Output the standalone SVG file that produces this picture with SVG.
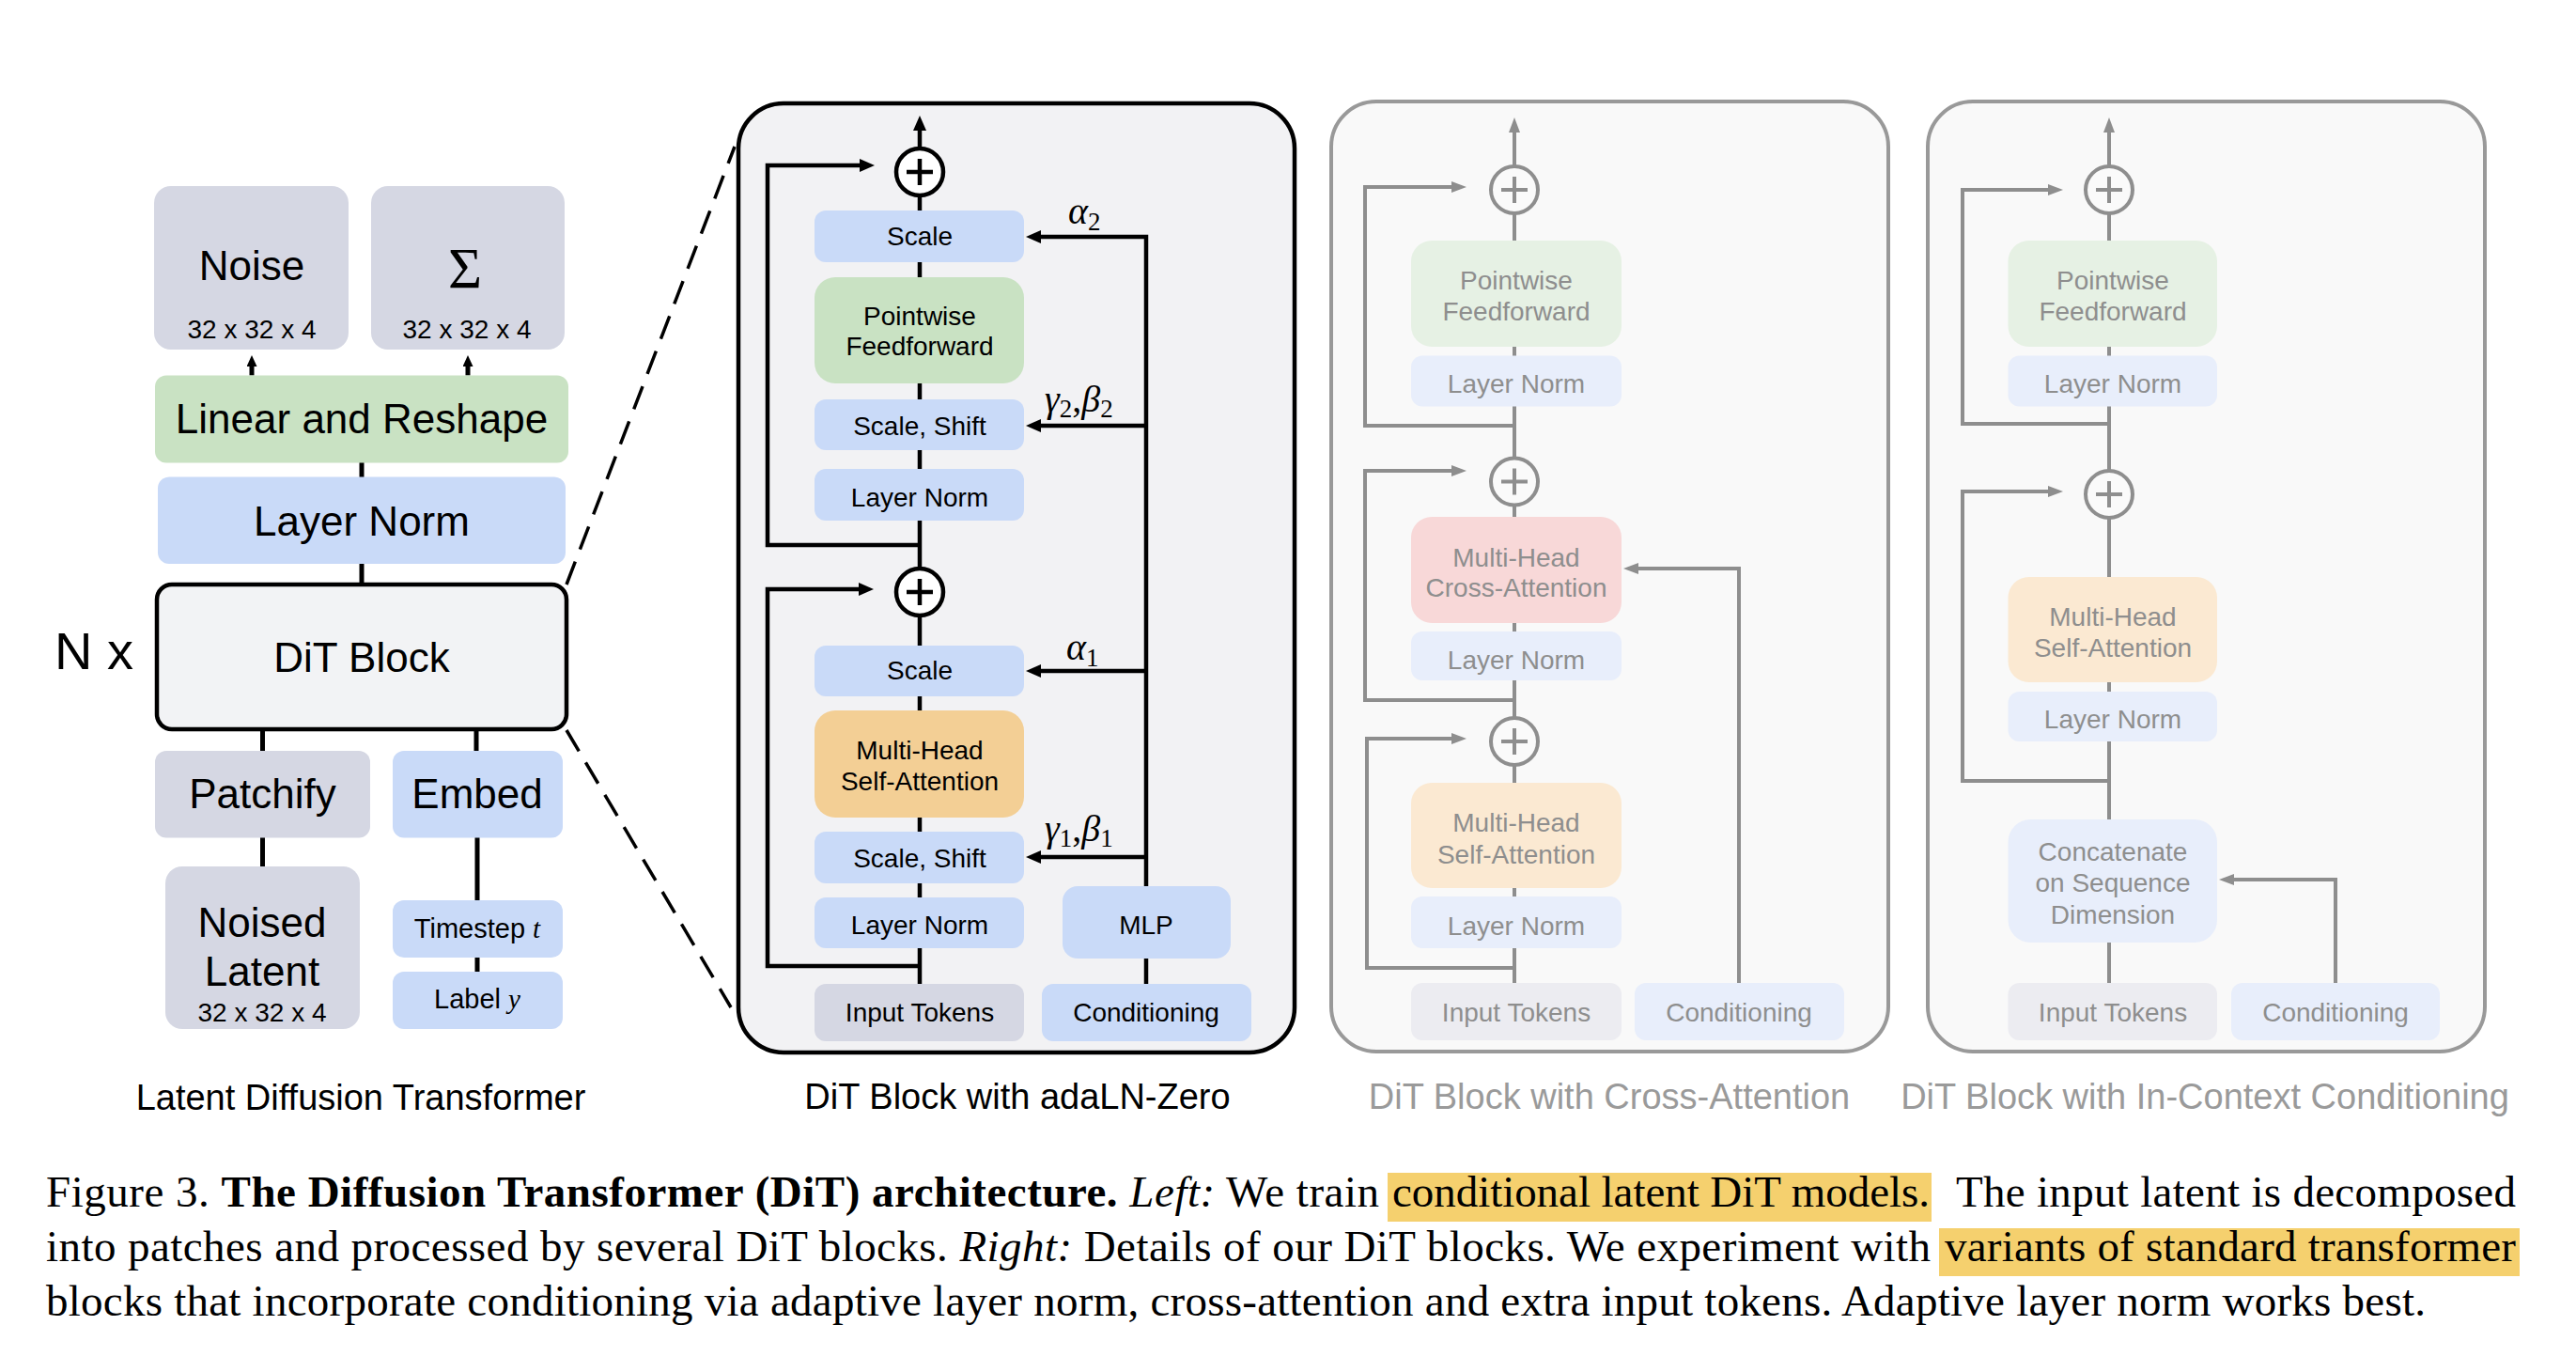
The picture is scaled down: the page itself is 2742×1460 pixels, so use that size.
<svg xmlns="http://www.w3.org/2000/svg" width="2742" height="1460" viewBox="0 0 2742 1460">
<style>
.sans{font-family:"Liberation Sans",Arial,Helvetica,sans-serif}
.serif{font-family:"Liberation Serif","Times New Roman",serif}
.c{text-anchor:middle}
.big{font-size:44px}
.med{font-size:28px}
.ttl{font-size:38px}
.blk{stroke:#000;stroke-width:4.5;fill:none}
.gry{stroke:#8e8e8e;stroke-width:4;fill:none}
.dash{stroke:#000;stroke-width:3.5;fill:none;stroke-dasharray:26 14}
.blue{fill:#c9daf8}
.green{fill:#c9e2c3}
.gray{fill:#d5d7e3}
.orange{fill:#f3cf95}
.fblue{fill:#e8eefb}
.fgreen{fill:#e6f1e4}
.fred{fill:#f8d8d8}
.forange{fill:#fbe9d2}
.fgray{fill:#ececf1}
.ft{fill:#8e8e8e}
.gt{fill:#9a9a9a}
.cap{font-family:"Liberation Serif","Times New Roman",serif;font-size:47px}
.hl{fill:#f5d06e}
.greek{font-family:"Liberation Serif","DejaVu Serif",serif;font-style:italic;font-size:40px}
.sub{font-family:"Liberation Serif","DejaVu Serif",serif;font-style:normal;font-size:27px}
</style>
<defs>
<marker id="ah" markerUnits="userSpaceOnUse" markerWidth="16" markerHeight="14" viewBox="0 0 16 14" refX="6" refY="7" orient="auto"><path d="M0,0 L16,7 L0,14 z" fill="#000"/></marker>
<marker id="ahs" markerUnits="userSpaceOnUse" markerWidth="12" markerHeight="11" viewBox="0 0 12 11" refX="4" refY="5.5" orient="auto"><path d="M0,0 L12,5.5 L0,11 z" fill="#000"/></marker>
<marker id="ahg" markerUnits="userSpaceOnUse" markerWidth="16" markerHeight="12" viewBox="0 0 16 12" refX="6" refY="6" orient="auto"><path d="M0,0 L16,6 L0,12 z" fill="#8e8e8e"/></marker>
</defs>
<rect width="2742" height="1460" fill="#fff"/>

<!-- panel backgrounds -->
<rect id="panel-adaln" x="786" y="110" width="592" height="1010" rx="48" fill="#f2f2f4" stroke="#000" stroke-width="4.5"/>
<rect id="panel-cross" x="1417" y="108" width="593" height="1011" rx="48" fill="#f9f9f9" stroke="#999" stroke-width="4"/>
<rect id="panel-incontext" x="2052" y="108" width="593" height="1011" rx="48" fill="#f9f9f9" stroke="#999" stroke-width="4"/>

<g id="connectors">
  <!-- left panel -->
  <path d="M268,399.5 V386" stroke="#000" stroke-width="5" marker-end="url(#ahs)"/>
  <path d="M498,399.5 V386" stroke="#000" stroke-width="5" marker-end="url(#ahs)"/>
  <path d="M385,492 V508 M385,600 V622 M279.5,776 V799 M507,776 V799 M279.5,891 V922 M508,891 V958 M508,1019 V1034" stroke="#000" stroke-width="5" fill="none"/>
  <path class="dash" d="M603,622 L782,156"/>
  <path class="dash" d="M603,777 L778,1072"/>
  <!-- adaLN panel -->
  <path class="blk" d="M979,1047 V208"/>
  <path class="blk" d="M979,158 V133" marker-end="url(#ah)"/>
  <path class="blk" d="M979,580 H817 V176 H921" marker-end="url(#ah)"/>
  <path class="blk" d="M979,1028 H817 V627 H920" marker-end="url(#ah)"/>
  <path class="blk" d="M1220,943 V252 H1102" marker-end="url(#ah)"/>
  <path class="blk" d="M1220,453 H1102" marker-end="url(#ah)"/>
  <path class="blk" d="M1220,714 H1102" marker-end="url(#ah)"/>
  <path class="blk" d="M1220,912 H1102" marker-end="url(#ah)"/>
  <path class="blk" d="M1220,1047 V1020"/>
  <!-- cross-attention panel -->
  <path class="gry" d="M1612,1046 V227"/>
  <path class="gry" d="M1612,177 V135" marker-end="url(#ahg)"/>
  <path class="gry" d="M1612,453 H1453 V199 H1551" marker-end="url(#ahg)"/>
  <path class="gry" d="M1612,745 H1453 V501 H1551" marker-end="url(#ahg)"/>
  <path class="gry" d="M1612,1030 H1455 V786 H1551" marker-end="url(#ahg)"/>
  <path class="gry" d="M1851,1046 V605 H1738" marker-end="url(#ahg)"/>
  <!-- in-context panel -->
  <path class="gry" d="M2245,1046 V227"/>
  <path class="gry" d="M2245,177 V135" marker-end="url(#ahg)"/>
  <path class="gry" d="M2245,451 H2089 V202 H2186" marker-end="url(#ahg)"/>
  <path class="gry" d="M2245,831 H2089 V523 H2186" marker-end="url(#ahg)"/>
  <path class="gry" d="M2486,1046 V936 H2372" marker-end="url(#ahg)"/>
</g>

<!-- LEFT PANEL -->
<g id="noise"><rect class="gray" x="164" y="198" width="207" height="174" rx="18"/>
<text class="sans c big" x="268" y="298">Noise</text><text class="sans c med" x="268" y="360">32 x 32 x 4</text></g>
<g id="sigma"><rect class="gray" x="395" y="198" width="206" height="174" rx="18"/>
<text class="serif c" x="495" y="306" font-size="62">Σ</text><text class="sans c med" x="497" y="360">32 x 32 x 4</text></g>
<g id="linear"><rect class="green" x="165" y="399.5" width="440" height="93" rx="12"/>
<text class="sans c big" x="385" y="461">Linear and Reshape</text></g>
<g id="layernorm-left"><rect class="blue" x="168" y="507.5" width="434" height="92.5" rx="12"/>
<text class="sans c big" x="385" y="569.5">Layer Norm</text></g>
<g id="ditblock"><rect x="167" y="622" width="436" height="154" rx="16" fill="#f2f3f5" stroke="#000" stroke-width="4.5"/>
<text class="sans c big" x="385" y="714.5">DiT Block</text></g>
<text id="nx" class="sans" x="58" y="712" font-size="56">N x</text>
<g id="patchify"><rect class="gray" x="165" y="799" width="229" height="92.5" rx="12"/>
<text class="sans c big" x="279.5" y="860">Patchify</text></g>
<g id="embed"><rect class="blue" x="418" y="799" width="181" height="92.5" rx="12"/>
<text class="sans c big" x="508" y="860">Embed</text></g>
<g id="noised-latent"><rect class="gray" x="176" y="922" width="207" height="173" rx="18"/>
<text class="sans c big" x="279" y="996.5">Noised</text><text class="sans c big" x="279" y="1049">Latent</text>
<text class="sans c med" x="279" y="1087">32 x 32 x 4</text></g>
<g id="timestep"><rect class="blue" x="418" y="958" width="181" height="61" rx="12"/>
<text class="sans c" x="508" y="998" font-size="29">Timestep <tspan class="serif" font-style="italic">t</tspan></text></g>
<g id="label"><rect class="blue" x="418" y="1034" width="181" height="61" rx="12"/>
<text class="sans c" x="508" y="1073" font-size="29">Label <tspan class="serif" font-style="italic">y</tspan></text></g>
<text class="sans c ttl" x="384" y="1181">Latent Diffusion Transformer</text>

<!-- ADALN PANEL -->
<g id="a-plus1"><circle cx="979" cy="183" r="25" fill="#fff" stroke="#000" stroke-width="4.5"/><path class="blk" d="M965,183 H993 M979,169 V197"/></g>
<g id="a-scale2"><rect class="blue" x="867" y="224" width="223" height="55" rx="12"/><text class="sans c med" x="979" y="261">Scale</text></g>
<g id="a-ff"><rect class="green" x="867" y="295" width="223" height="113" rx="22"/><text class="sans c med" x="979" y="346">Pointwise</text><text class="sans c med" x="979" y="378">Feedforward</text></g>
<g id="a-ss2"><rect class="blue" x="867" y="425" width="223" height="54" rx="12"/><text class="sans c med" x="979" y="462.5">Scale, Shift</text></g>
<g id="a-ln2"><rect class="blue" x="867" y="499" width="223" height="55" rx="12"/><text class="sans c med" x="979" y="538.5">Layer Norm</text></g>
<g id="a-plus2"><circle cx="979" cy="630" r="25" fill="#fff" stroke="#000" stroke-width="4.5"/><path class="blk" d="M965,630 H993 M979,616 V644"/></g>
<g id="a-scale1"><rect class="blue" x="867" y="687" width="223" height="54" rx="12"/><text class="sans c med" x="979" y="723">Scale</text></g>
<g id="a-mhsa"><rect class="orange" x="867" y="756" width="223" height="114" rx="22"/><text class="sans c med" x="979" y="808">Multi-Head</text><text class="sans c med" x="979" y="841">Self-Attention</text></g>
<g id="a-ss1"><rect class="blue" x="867" y="885" width="223" height="55" rx="12"/><text class="sans c med" x="979" y="922.5">Scale, Shift</text></g>
<g id="a-ln1"><rect class="blue" x="867" y="955" width="223" height="54" rx="12"/><text class="sans c med" x="979" y="993.5">Layer Norm</text></g>
<g id="a-input"><rect class="gray" x="867" y="1047" width="223" height="61" rx="12"/><text class="sans c med" x="979" y="1087">Input Tokens</text></g>
<g id="a-cond"><rect class="blue" x="1109" y="1047" width="223" height="61" rx="12"/><text class="sans c med" x="1220" y="1087">Conditioning</text></g>
<g id="a-mlp"><rect class="blue" x="1131" y="943" width="179" height="77" rx="16"/><text class="sans c med" x="1220" y="994">MLP</text></g>
<text class="greek" x="1137" y="238">α<tspan class="sub" dy="7">2</tspan></text>
<text class="greek" x="1112" y="438">γ<tspan class="sub" dy="6">2</tspan><tspan dy="-6" font-style="normal">,</tspan>β<tspan class="sub" dy="6">2</tspan></text>
<text class="greek" x="1135" y="702">α<tspan class="sub" dy="7">1</tspan></text>
<text class="greek" x="1112" y="895">γ<tspan class="sub" dy="6">1</tspan><tspan dy="-6" font-style="normal">,</tspan>β<tspan class="sub" dy="6">1</tspan></text>
<text class="sans c ttl" x="1083" y="1180">DiT Block with adaLN-Zero</text>

<!-- CROSS-ATTENTION PANEL -->
<g id="c-plus1"><circle cx="1612" cy="202" r="25" fill="#fafafa" stroke="#8e8e8e" stroke-width="4"/><path class="gry" d="M1598,202 H1626 M1612,188 V216"/></g>
<g id="c-ff"><rect class="fgreen" x="1502" y="256" width="224" height="113" rx="22"/><text class="sans c med ft" x="1614" y="307.5">Pointwise</text><text class="sans c med ft" x="1614" y="340.5">Feedforward</text></g>
<g id="c-ln3"><rect class="fblue" x="1502" y="378.5" width="224" height="54" rx="12"/><text class="sans c med ft" x="1614" y="418">Layer Norm</text></g>
<g id="c-plus2"><circle cx="1612" cy="512.5" r="25" fill="#fafafa" stroke="#8e8e8e" stroke-width="4"/><path class="gry" d="M1598,512.5 H1626 M1612,498.5 V526.5"/></g>
<g id="c-mhca"><rect class="fred" x="1502" y="550" width="224" height="113" rx="22"/><text class="sans c med ft" x="1614" y="603">Multi-Head</text><text class="sans c med ft" x="1614" y="634.5">Cross-Attention</text></g>
<g id="c-ln2"><rect class="fblue" x="1502" y="672" width="224" height="52" rx="12"/><text class="sans c med ft" x="1614" y="711.5">Layer Norm</text></g>
<g id="c-plus3"><circle cx="1612" cy="789" r="25" fill="#fafafa" stroke="#8e8e8e" stroke-width="4"/><path class="gry" d="M1598,789 H1626 M1612,775 V803"/></g>
<g id="c-mhsa"><rect class="forange" x="1502" y="833" width="224" height="112" rx="22"/><text class="sans c med ft" x="1614" y="884.5">Multi-Head</text><text class="sans c med ft" x="1614" y="918.5">Self-Attention</text></g>
<g id="c-ln1"><rect class="fblue" x="1502" y="954" width="224" height="55" rx="12"/><text class="sans c med ft" x="1614" y="995">Layer Norm</text></g>
<g id="c-input"><rect class="fgray" x="1502" y="1046" width="224" height="61" rx="12"/><text class="sans c med ft" x="1614" y="1087">Input Tokens</text></g>
<g id="c-cond"><rect class="fblue" x="1740" y="1046" width="223" height="61" rx="12"/><text class="sans c med ft" x="1851" y="1087">Conditioning</text></g>
<text class="sans c ttl gt" x="1713" y="1180">DiT Block with Cross-Attention</text>

<!-- IN-CONTEXT PANEL -->
<g id="i-plus1"><circle cx="2245" cy="202" r="25" fill="#fafafa" stroke="#8e8e8e" stroke-width="4"/><path class="gry" d="M2231,202 H2259 M2245,188 V216"/></g>
<g id="i-ff"><rect class="fgreen" x="2137.5" y="256" width="222.5" height="113" rx="22"/><text class="sans c med ft" x="2249" y="307.5">Pointwise</text><text class="sans c med ft" x="2249" y="340.5">Feedforward</text></g>
<g id="i-ln2"><rect class="fblue" x="2137.5" y="378.5" width="222.5" height="54" rx="12"/><text class="sans c med ft" x="2249" y="418">Layer Norm</text></g>
<g id="i-plus2"><circle cx="2245" cy="526" r="25" fill="#fafafa" stroke="#8e8e8e" stroke-width="4"/><path class="gry" d="M2231,526 H2259 M2245,512 V540"/></g>
<g id="i-mhsa"><rect class="forange" x="2137.5" y="614" width="222.5" height="112" rx="22"/><text class="sans c med ft" x="2249" y="665.5">Multi-Head</text><text class="sans c med ft" x="2249" y="698.5">Self-Attention</text></g>
<g id="i-ln1"><rect class="fblue" x="2137.5" y="736" width="222.5" height="53" rx="12"/><text class="sans c med ft" x="2249" y="775">Layer Norm</text></g>
<g id="i-concat"><rect class="fblue" x="2137.5" y="872" width="222.5" height="131" rx="24"/><text class="sans c med ft" x="2249" y="916">Concatenate</text><text class="sans c med ft" x="2249" y="949">on Sequence</text><text class="sans c med ft" x="2249" y="982.5">Dimension</text></g>
<g id="i-input"><rect class="fgray" x="2137.5" y="1046" width="222.5" height="61" rx="12"/><text class="sans c med ft" x="2249" y="1087">Input Tokens</text></g>
<g id="i-cond"><rect class="fblue" x="2375" y="1046" width="222" height="61" rx="12"/><text class="sans c med ft" x="2486" y="1087">Conditioning</text></g>
<text class="sans c ttl gt" x="2347" y="1180">DiT Block with In-Context Conditioning</text>

<!-- CAPTION -->
<g id="caption">
<rect class="hl" x="1477" y="1248" width="579" height="52"/>
<rect class="hl" x="2064" y="1307" width="618" height="51"/>
<text class="cap" x="49" y="1284" textLength="1419" lengthAdjust="spacing">Figure 3. <tspan font-weight="bold">The Diffusion Transformer (DiT) architecture.</tspan> <tspan font-style="italic">Left:</tspan> We train</text>
<text class="cap" x="1482" y="1284" textLength="572" lengthAdjust="spacing">conditional latent DiT models.</text>
<text class="cap" x="2082" y="1284" textLength="596" lengthAdjust="spacing">The input latent is decomposed</text>
<text class="cap" x="49" y="1342" textLength="2006" lengthAdjust="spacing">into patches and processed by several DiT blocks. <tspan font-style="italic">Right:</tspan> Details of our DiT blocks. We experiment with</text>
<text class="cap" x="2070" y="1342" textLength="608" lengthAdjust="spacing">variants of standard transformer</text>
<text class="cap" x="49" y="1400" textLength="2533" lengthAdjust="spacing">blocks that incorporate conditioning via adaptive layer norm, cross-attention and extra input tokens. Adaptive layer norm works best.</text>
</g>
</svg>
